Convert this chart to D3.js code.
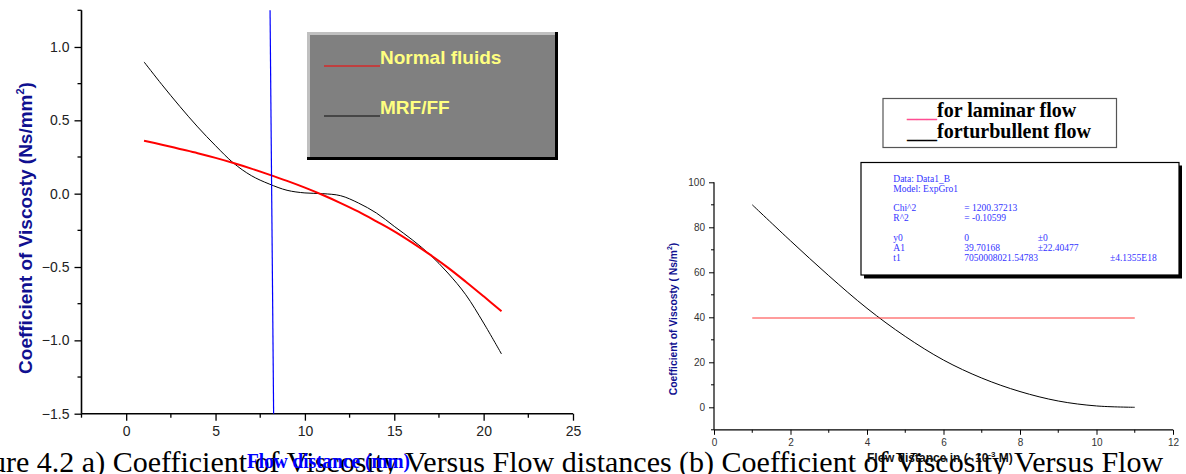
<!DOCTYPE html>
<html><head><meta charset="utf-8">
<script src="https://cdn.jsdelivr.net/npm/d3@7"></script>
<style>
html,body{margin:0;padding:0;background:#fff;}
svg{display:block;}
</style></head>
<body>
<script>
// ---------- data ----------
const leftX = [1,2,3,4,5,6,7,8,9,10,11,12,13,14,15,16,17,18,19,20,21];
const normalFluids = [0.361,0.334,0.305,0.276,0.244,0.209,0.171,0.130,0.087,0.041,-0.009,-0.064,-0.123,-0.189,-0.257,-0.334,-0.416,-0.504,-0.600,-0.700,-0.802];
const mrfFF = [0.898,0.743,0.595,0.455,0.327,0.209,0.123,0.066,0.023,0.005,0.0,-0.014,-0.064,-0.132,-0.223,-0.314,-0.416,-0.541,-0.689,-0.882,-1.093];
const markerX = [8.05, 8.25];
const markerY = [1.25, -1.5];
const leftXTicks = [0,5,10,15,20,25];
const leftYTicks = [-1.5,-1.0,-0.5,0.0,0.5,1.0];
const leftLegend = ["Normal fluids","MRF/FF"];

const rightX = [1,2,3,4,5,6,7,8,9,10,11];
const laminar = [39.7,39.7,39.7,39.7,39.7,39.7,39.7,39.7,39.7,39.7,39.7];
const turbulent = [90,74,58.5,44,31.5,21,13,7,2.8,0.6,0];
const rightXTicks = [0,2,4,6,8,10,12];
const rightYTicks = [0,20,40,60,80,100];
const rightLegend = ["for laminar flow","forturbullent flow"];
const fitRows = [
  ["Data: Data1_B","","",""],
  ["Model: ExpGro1","","",""],
  ["","","",""],
  ["Chi^2","=  1200.37213","",""],
  ["R^2","=  -0.10599","",""],
  ["","","",""],
  ["y0","0","\u00b10",""],
  ["A1","39.70168","\u00b122.40477",""],
  ["t1","7050008021.54783","","\u00b14.1355E18"]
];
const caption = "Figure 4.2 a) Coefficient of Viscosity Versus Flow distances (b) Coefficient of Viscosity Versus Flow";

// ---------- drawing ----------
const W = 1186, H = 474;
const svg = d3.select("body").append("svg").attr("width", W).attr("height", H);
const SANS = "'Liberation Sans', Arial, sans-serif";
const SERIF = "'Liberation Serif', 'Times New Roman', serif";

// ===== Left chart =====
const lx = d3.scaleLinear().domain([-2.5, 25]).range([81.5, 573]);
const ly = d3.scaleLinear().domain([-1.5, 1.25]).range([413.7, 10.3]);
const gL = svg.append("g");

const lxMinor = d3.range(-2.5, 25.01, 2.5).filter(v => !leftXTicks.includes(v));
const lyMinor = d3.range(-1.25, 1.26, 0.5);

const xAxisL = gL.append("g").attr("transform", `translate(0,${ly(-1.5)})`)
  .call(d3.axisBottom(lx).tickValues(leftXTicks).tickSize(7).tickPadding(5).tickFormat(d3.format("d")));
xAxisL.append("g").selectAll("line").data(lxMinor).join("line")
  .attr("x1", d => lx(d)).attr("x2", d => lx(d)).attr("y1", 0).attr("y2", 4).attr("stroke", "#000").attr("stroke-width", 1.3);
const yAxisL = gL.append("g").attr("transform", `translate(${lx(-2.5)},0)`)
  .call(d3.axisLeft(ly).tickValues(leftYTicks).tickSize(7).tickPadding(5).tickFormat(d3.format(".1f")));
yAxisL.append("g").selectAll("line").data(lyMinor).join("line")
  .attr("y1", d => ly(d)).attr("y2", d => ly(d)).attr("x1", 0).attr("x2", -4).attr("stroke", "#000").attr("stroke-width", 1.3);
[xAxisL, yAxisL].forEach(a => {
  a.select(".domain").attr("stroke", "#000").attr("stroke-width", 1.6);
  a.selectAll(".tick line").attr("stroke", "#000").attr("stroke-width", 1.3);
  a.selectAll("text").attr("font-family", SANS).attr("font-size", 14).attr("fill", "#222");
});
xAxisL.select(".domain").attr("d", `M${lx(-2.5)},0H${lx(25)}`);
yAxisL.select(".domain").attr("d", `M0,${ly(-1.5)}V${ly(1.25)}`);

const lineL = d3.line().x((d, i) => lx(leftX[i])).y(d => ly(d)).curve(d3.curveCatmullRom);
gL.append("path").attr("d", lineL(mrfFF)).attr("fill", "none").attr("stroke", "#000").attr("stroke-width", 1);
gL.append("path").attr("d", lineL(normalFluids)).attr("fill", "none").attr("stroke", "#ff0000").attr("stroke-width", 2);
gL.append("line").attr("x1", lx(markerX[0])).attr("y1", ly(markerY[0]))
  .attr("x2", lx(markerX[1])).attr("y2", ly(markerY[1])).attr("stroke", "#0000ff").attr("stroke-width", 1.2);

// legend box (beveled)
const lb = {x: 307, y: 32, w: 251, h: 128};
gL.append("rect").attr("x", lb.x).attr("y", lb.y).attr("width", lb.w).attr("height", lb.h).attr("fill", "#000");
gL.append("rect").attr("x", lb.x).attr("y", lb.y).attr("width", lb.w - 3).attr("height", lb.h - 3).attr("fill", "#c0c0c0");
gL.append("rect").attr("x", lb.x + 3).attr("y", lb.y + 3).attr("width", lb.w - 6).attr("height", lb.h - 6).attr("fill", "#808080");
const legColors = ["#d42a2a", "#333333"];
leftLegend.forEach((t, i) => {
  const by = 66 + i * 50;
  gL.append("line").attr("x1", 324).attr("x2", 380).attr("y1", by).attr("y2", by)
    .attr("stroke", legColors[i]).attr("stroke-width", 1.5);
  gL.append("text").attr("x", 380).attr("y", by - 2).text(t)
    .attr("font-family", SANS).attr("font-weight", "bold").attr("font-size", 19).attr("fill", "#ffff80");
});

const yl = gL.append("text").attr("transform", `translate(32,228) rotate(-90)`).attr("text-anchor", "middle")
  .attr("font-family", SANS).attr("font-weight", "bold").attr("font-size", 19).attr("fill", "#101090");
yl.append("tspan").text("Coefficient of Viscosty (Ns/mm");
yl.append("tspan").text("2").attr("font-size", 11).attr("dy", -8);
yl.append("tspan").text(")").attr("dy", 8);

// ===== Right chart =====
const rx = d3.scaleLinear().domain([0, 12]).range([714, 1173]);
const ry = d3.scaleLinear().domain([-10, 100]).range([429.8, 182.3]);
const gR = svg.append("g");
const rxMinor = d3.range(1, 12, 2);
const ryMinor = d3.range(-10, 100, 20);
const xAxisR = gR.append("g").attr("transform", `translate(0,${ry(-10)})`)
  .call(d3.axisBottom(rx).tickValues(rightXTicks).tickSize(5).tickPadding(4).tickFormat(d3.format("d")));
xAxisR.append("g").selectAll("line").data(rxMinor).join("line")
  .attr("x1", d => rx(d)).attr("x2", d => rx(d)).attr("y1", 0).attr("y2", 3).attr("stroke", "#000");
const yAxisR = gR.append("g").attr("transform", `translate(${rx(0)},0)`)
  .call(d3.axisLeft(ry).tickValues(rightYTicks).tickSize(5).tickPadding(4).tickFormat(d3.format("d")));
yAxisR.append("g").selectAll("line").data(ryMinor).join("line")
  .attr("y1", d => ry(d)).attr("y2", d => ry(d)).attr("x1", 0).attr("x2", -3).attr("stroke", "#000");
[xAxisR, yAxisR].forEach(a => {
  a.select(".domain").attr("stroke", "#000").attr("stroke-width", 1.2);
  a.selectAll(".tick line").attr("stroke", "#000");
  a.selectAll("text").attr("font-family", SANS).attr("font-size", 10).attr("fill", "#333");
});
xAxisR.select(".domain").attr("d", `M${rx(0)},0H${rx(12)}`);
yAxisR.select(".domain").attr("d", `M0,${ry(-10)}V${ry(100)}`);

const lineR = d3.line().x((d, i) => rx(rightX[i])).y(d => ry(d)).curve(d3.curveCatmullRom);
gR.append("path").attr("d", lineR(turbulent)).attr("fill", "none").attr("stroke", "#000").attr("stroke-width", 1);
gR.append("path").attr("d", lineR(laminar)).attr("fill", "none").attr("stroke", "#ff3a3a").attr("stroke-width", 1.2);

// right legend
gR.append("rect").attr("x", 883).attr("y", 98.5).attr("width", 233.5).attr("height", 49)
  .attr("fill", "#fff").attr("stroke", "#555").attr("stroke-width", 1.2);
const rlColors = ["#ff4d94", "#000"];
rightLegend.forEach((t, i) => {
  const tx = gR.append("text").attr("x", 907).attr("y", 116.7 + i * 21)
    .attr("font-family", SERIF).attr("font-weight", "bold").attr("font-size", 20).attr("fill", "#000");
  tx.append("tspan").text("___").attr("fill", rlColors[i]);
  tx.append("tspan").text(t);
});

// fit stats box
gR.append("rect").attr("x", 864).attr("y", 165.5).attr("width", 318).attr("height", 113).attr("fill", "#000");
gR.append("rect").attr("x", 861).attr("y", 162.5).attr("width", 318).attr("height", 112.5)
  .attr("fill", "#fff").attr("stroke", "#000").attr("stroke-width", 1.2);
const colX = [893.3, 964.3, 1037.7, 1110];
fitRows.forEach((row, i) => {
  row.forEach((c, j) => {
    if (!c) return;
    gR.append("text").attr("x", colX[j]).attr("y", 181.7 + i * 9.9).text(c)
      .attr("font-family", SERIF).attr("font-size", 9.5).attr("fill", "#3333ff");
  });
});

const ylR = gR.append("text").attr("transform", `translate(677,319) rotate(-90)`).attr("text-anchor", "middle")
  .attr("font-family", SANS).attr("font-weight", "bold").attr("font-size", 10.3).attr("fill", "#101090");
ylR.append("tspan").text("Coefficient of Viscosty (  Ns/m");
ylR.append("tspan").text("2").attr("font-size", 7).attr("dy", -5);
ylR.append("tspan").text(")").attr("dy", 5);

// caption (drawn before x-labels which overlap it)
svg.append("text").attr("x", -49).attr("y", 472).text(caption)
  .attr("font-family", SERIF).attr("font-size", 30).attr("fill", "#000");

// x labels
svg.append("text").attr("x", 247).attr("y", 468).text("Flow distance (mm)")
  .attr("font-family", SERIF).attr("font-weight", "bold").attr("font-size", 20).attr("fill", "#0000ff")
  .attr("textLength", 163).attr("lengthAdjust", "spacingAndGlyphs");
const xlR = svg.append("text").attr("x", 867).attr("y", 462)
  .attr("font-family", SANS).attr("font-weight", "bold").attr("font-size", 12).attr("fill", "#111");
xlR.append("tspan").text("Flow distance in (\u00b7 10");
xlR.append("tspan").text("-3").attr("font-size", 8).attr("dy", -5);
xlR.append("tspan").text(" M)").attr("dy", 5);
</script>
</body></html>
